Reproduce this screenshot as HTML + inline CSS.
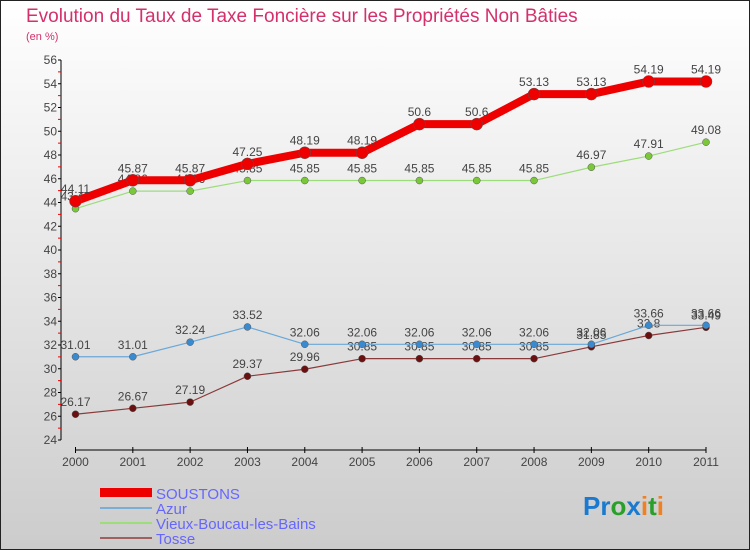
<!DOCTYPE html>
<html><head><meta charset="utf-8"><style>
body{margin:0}
#c{width:750px;height:550px;position:relative;overflow:hidden;font-family:"Liberation Sans",sans-serif}
</style></head><body>
<div id="c">
<svg id="s" width="750" height="550" xmlns="http://www.w3.org/2000/svg">
<defs><linearGradient id="bg" x1="0" y1="0" x2="0" y2="1"><stop offset="0" stop-color="#ffffff"/><stop offset="1" stop-color="#cccccc"/></linearGradient></defs>
<rect x="0.5" y="0.5" width="749" height="549" fill="url(#bg)" stroke="#222"/>
<text x="26" y="22" font-size="19" fill="#d4306c">Evolution du Taux de Taxe Foncière sur les Propriétés Non Bâties</text>
<text x="26" y="40" font-size="11" fill="#d4306c">(en %)</text>
<g id="axes"></g><g id="series"></g>
<g>
<rect x="100" y="488" width="52" height="9" fill="#e00"/>
<text x="156" y="499" font-size="15" fill="#66f">SOUSTONS</text>
<line x1="100" y1="508" x2="152" y2="508" stroke="#7aaed6" stroke-width="2"/>
<text x="156" y="514" font-size="15" fill="#66f">Azur</text>
<line x1="100" y1="523" x2="152" y2="523" stroke="#9dde7a" stroke-width="2"/>
<text x="156" y="529" font-size="15" fill="#66f">Vieux-Boucau-les-Bains</text>
<line x1="100" y1="538" x2="152" y2="538" stroke="#a06060" stroke-width="2"/>
<text x="156" y="544" font-size="15" fill="#66f">Tosse</text>
</g>
<g font-size="26" font-weight="bold" font-family="Liberation Sans, sans-serif">
<text x="583" y="515"><tspan fill="#1a7ad0">Pr</tspan><tspan fill="#2aa02a">o</tspan><tspan fill="#1a7ad0">x</tspan><tspan fill="#f08020">i</tspan><tspan fill="#2aa02a">t</tspan><tspan fill="#f08020">i</tspan></text>
</g>
</svg>
</div>
<script>
const years=["2000","2001","2002","2003","2004","2005","2006","2007","2008","2009","2010","2011"];
const soustons=[44.11,45.87,45.87,47.25,48.19,48.19,50.6,50.6,53.13,53.13,54.19,54.19];
const azur=[31.01,31.01,32.24,33.52,32.06,32.06,32.06,32.06,32.06,32.06,33.66,33.66];
const vieux=[43.48,44.96,44.96,45.85,45.85,45.85,45.85,45.85,45.85,46.97,47.91,49.08];
const tosse=[26.17,26.67,27.19,29.37,29.96,30.85,30.85,30.85,30.85,31.85,32.8,33.49];
const yTicks=[24,26,28,30,32,34,36,38,40,42,44,46,48,50,52,54,56];
const NS="http://www.w3.org/2000/svg";
const X=i=>75.5+i*(706-75.5)/(years.length-1);
const Y=v=>440-(v-24)*(380/32);
function mk(t,a,p){const e=document.createElementNS(NS,t);for(const k in a)e.setAttribute(k,a[k]);p.appendChild(e);return e;}
const ax=document.getElementById('axes');
let l=mk('line',{x1:61,y1:Y(56),x2:61,y2:Y(24),stroke:'#000'},ax);


yTicks.forEach(v=>{
 const t=mk('line',{x1:58,y1:Y(v),x2:61,y2:Y(v),stroke:'#000'},ax);
 
 
 const m=mk('line',{x1:58,y1:Y(v+1),x2:61,y2:Y(v+1),stroke:'#e00'},ax);
 if(v==56)m.remove();
 const tx=mk('text',{x:57,y:Y(v)+4,'font-size':12,fill:'#444','text-anchor':'end'},ax);
 tx.textContent=v;
 
 
});
l=mk('line',{x1:X(0),y1:450,x2:X(11),y2:450,stroke:'#000'},ax);


years.forEach((y,i)=>{
 mk('line',{x1:X(i),y1:447,x2:X(i),y2:453,stroke:'#000'},ax);
 const tx=mk('text',{x:X(i),y:466,'font-size':12,fill:'#444','text-anchor':'middle'},ax);
 tx.textContent=y;
 
 
});
const sg=document.getElementById('series');
function draw(name,vals,col,dot,w,r){
 const g=mk('g',{},sg);
 
 
 const p=mk('polyline',{points:vals.map((v,i)=>X(i)+','+Y(v)).join(' '),fill:'none',stroke:col,'stroke-width':w,'stroke-linejoin':'round'},g);
 
 
 vals.forEach((v,i)=>{
  const c=mk('circle',{cx:X(i),cy:Y(v),r:r,fill:dot,stroke:'#555','stroke-width':0.5},g);
  
  
  const t=mk('text',{x:X(i),y:Y(v)-8,'font-size':12,fill:'#444','text-anchor':'middle'},g);
  t.textContent=v;
  
  
 });
}
draw('tosse',tosse,'#8a3a3a','#6a1010',1.2,3.5);
draw('azur',azur,'#6aa8d8','#3a8ad0',1.2,3.5);
draw('vieux-boucau',vieux,'#9ddc7a','#7ac83a',1.2,3.5);
draw('soustons',soustons,'#ee0000','#ee0000',8,6);
</script>
</body></html>
